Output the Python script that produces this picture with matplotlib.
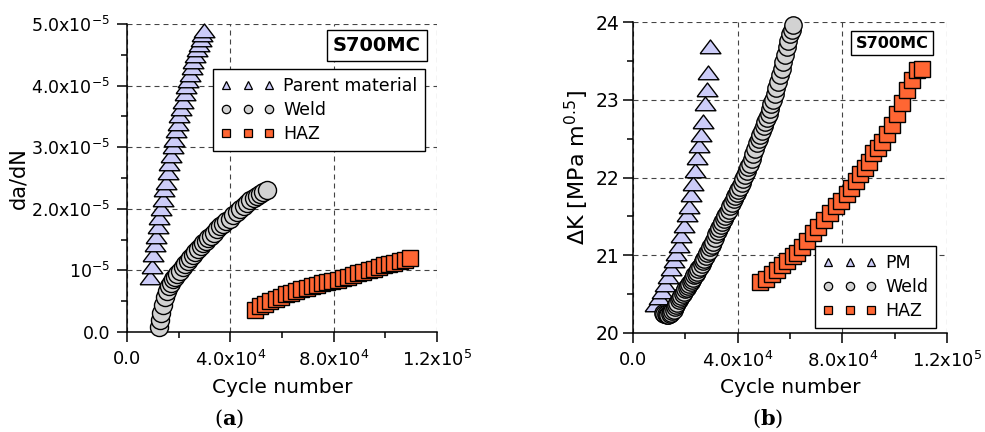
import matplotlib
matplotlib.use("Agg")
import matplotlib.pyplot as plt
from matplotlib.lines import Line2D
from matplotlib.ticker import FixedLocator, FixedFormatter, MultipleLocator

plt.rcParams['font.family'] = ['DejaVu Sans']
plt.rcParams['mathtext.fontset'] = 'custom'
plt.rcParams['mathtext.rm'] = 'DejaVu Sans'
plt.rcParams['mathtext.it'] = 'DejaVu Sans:italic'
plt.rcParams['mathtext.bf'] = 'DejaVu Serif:bold'

# ---------------- data ----------------
# (a) da/dN vs cycle number
pm_a_N = [8900, 9500, 10200, 10800, 11300, 11900, 12500, 13100, 13800, 14400, 15000,
          15700, 16300, 17000, 17700, 18300, 19000, 19600, 20300, 21000, 21600, 22300,
          23000, 23600, 24300, 25000, 25700, 26400, 27100, 27800, 28500, 29100, 29800]
pm_a_v = [0.88, 1.05, 1.25, 1.42, 1.55, 1.70, 1.85, 2.00, 2.15, 2.30, 2.42,
          2.58, 2.72, 2.86, 3.00, 3.12, 3.26, 3.38, 3.50, 3.62, 3.74, 3.86,
          3.98, 4.08, 4.18, 4.28, 4.38, 4.48, 4.58, 4.66, 4.74, 4.82, 4.89]

weld_a_N = [12400, 12800, 13300, 14000, 14800, 15500, 16300, 17000, 17800, 18600, 19500,
            20500, 21500, 22500, 23500, 24500, 25500, 26500, 27500, 28500, 29500, 30500,
            31500, 32500, 33500, 34800, 36000, 37200, 38500, 39900, 41200, 42500, 43800,
            45100, 46400, 47700, 49000, 50300, 51500, 52800, 54200]
weld_a_v = [0.08, 0.20, 0.31, 0.44, 0.57, 0.66, 0.74, 0.80, 0.86, 0.90, 0.94,
            0.99, 1.05, 1.10, 1.15, 1.20, 1.25, 1.30, 1.35, 1.40, 1.44, 1.48,
            1.52, 1.56, 1.60, 1.68, 1.72, 1.76, 1.80, 1.84, 1.90, 1.95, 2.00,
            2.05, 2.10, 2.14, 2.17, 2.20, 2.24, 2.27, 2.30]

haz_a_N = [49500, 51500, 53500, 55500, 57500, 59500, 61500, 63500, 65500, 67500, 69500,
           71500, 73500, 75500, 77500, 79500, 81500, 83500, 85500, 87500, 89500, 91500,
           93500, 95500, 97500, 99500, 101500, 103500, 105500, 107500, 109500]
haz_a_v = [0.36, 0.42, 0.46, 0.50, 0.54, 0.57, 0.61, 0.64, 0.67, 0.70, 0.72,
           0.75, 0.77, 0.79, 0.81, 0.83, 0.85, 0.87, 0.89, 0.92, 0.95, 0.97,
           1.00, 1.03, 1.05, 1.08, 1.10, 1.12, 1.15, 1.17, 1.20]
scale_a = 1e-5

# (b) Delta K vs cycle number
pm_b_N = [8400, 9800, 11000, 12200, 13300, 14500, 15500, 16500, 17500, 18500, 19500,
          20500, 21300, 22200, 23000, 23800, 24600, 25400, 26100, 26800, 27500, 28100,
          28700, 29400]
pm_b_K = [20.36, 20.45, 20.53, 20.62, 20.72, 20.82, 20.92, 21.02, 21.12, 21.25, 21.38,
          21.52, 21.62, 21.78, 21.92, 22.08, 22.25, 22.40, 22.55, 22.72, 22.95, 23.12,
          23.35, 23.68]

weld_b_N = [11500, 12000, 12500, 13000, 13500, 14000, 14500, 15000, 15500, 16000, 16500,
            17000, 17500, 18000, 18500, 19000, 19500, 20000, 20500, 21000, 21500, 22000,
            22500, 23000, 23500, 24000, 24500, 25000, 25600, 26200, 26700, 27200, 27800,
            28400, 28900, 29500, 30000, 30600, 31200, 31800, 32400, 33000, 33600, 34200,
            34800, 35300, 35900, 36500, 37200, 37800, 38500, 39100, 39700, 40300, 40900,
            41500, 42200, 42800, 43500, 44100, 44700, 45300, 46000, 46700, 47400, 48000,
            48700, 49300, 50000, 50600, 51200, 51800, 52400, 52900, 53500, 54100, 54800,
            55500, 56200, 56800, 57500, 58200, 58900, 59400, 60000, 60600, 61100]
weld_b_K = [20.26, 20.25, 20.24, 20.23, 20.23, 20.24, 20.26, 20.28, 20.30, 20.33, 20.36,
            20.39, 20.42, 20.45, 20.47, 20.50, 20.53, 20.56, 20.58, 20.61, 20.63, 20.66,
            20.68, 20.71, 20.74, 20.76, 20.79, 20.82, 20.85, 20.89, 20.92, 20.95, 20.99,
            21.03, 21.06, 21.10, 21.13, 21.17, 21.22, 21.27, 21.31, 21.35, 21.39, 21.43,
            21.47, 21.50, 21.54, 21.58, 21.63, 21.67, 21.72, 21.76, 21.80, 21.84, 21.88,
            21.93, 21.98, 22.03, 22.08, 22.13, 22.18, 22.24, 22.30, 22.37, 22.44, 22.50,
            22.55, 22.60, 22.66, 22.71, 22.76, 22.82, 22.88, 22.94, 23.00, 23.07, 23.15,
            23.23, 23.32, 23.40, 23.48, 23.58, 23.68, 23.76, 23.84, 23.90, 23.96]

haz_b_N = [48500, 51000, 53000, 55000, 57000, 59000, 61000, 62700, 64500, 66500, 68800,
           70800, 73000, 75300, 77500, 79500, 81800, 83500, 85200, 86700, 88500, 90000,
           91700, 93500, 95200, 97100, 99000, 100900, 102800, 104700, 106600, 108500, 110500]
haz_b_K = [20.66, 20.70, 20.76, 20.81, 20.87, 20.93, 20.99, 21.03, 21.10, 21.18, 21.28,
           21.36, 21.45, 21.54, 21.63, 21.70, 21.79, 21.86, 21.95, 22.05, 22.12, 22.20,
           22.31, 22.38, 22.46, 22.56, 22.68, 22.82, 22.96, 23.12, 23.26, 23.38, 23.40]

x_ticks = [0, 40000, 80000, 120000]
x_ticklabels = ['0.0', r'$\mathregular{4.0x10^{4}}$', r'$\mathregular{8.0x10^{4}}$',
                r'$\mathregular{1.2x10^{5}}$']
ya_ticks = [0, 1e-5, 2e-5, 3e-5, 4e-5, 5e-5]
ya_ticklabels = ['0.0', r'$\mathregular{10^{-5}}$', r'$\mathregular{2.0x10^{-5}}$',
                 r'$\mathregular{3.0x10^{-5}}$', r'$\mathregular{4.0x10^{-5}}$',
                 r'$\mathregular{5.0x10^{-5}}$']
yb_ticks = [20, 21, 22, 23, 24]
yb_ticklabels = ['20', '21', '22', '23', '24']

labels_a = ['Parent material', 'Weld', 'HAZ']
labels_b = ['PM', 'Weld', 'HAZ']

# ---------------- style ----------------
c_pm = '#CCCCF8'
c_weld = '#D2D2D2'
c_haz = '#FF6633'
tri = [(-1, -0.6), (1, -0.6), (0, 0.72), (-1, -0.6)]
W, H = 985, 432

fig = plt.figure(figsize=(W / 100, H / 100), dpi=100)


def fx(px):
    return px / W


def fy(py):
    return 1 - py / H


def style_axes(ax, xlim, ylim, xminor, yminor, yt, ytl, ylabsize, ypad):
    ax.set_xlim(*xlim)
    ax.set_ylim(*ylim)
    for s in ['top', 'right']:
        ax.spines[s].set_visible(False)
    for s in ['left', 'bottom']:
        ax.spines[s].set_linewidth(1.1)
    ax.xaxis.set_major_locator(FixedLocator(x_ticks))
    ax.xaxis.set_major_formatter(FixedFormatter(x_ticklabels))
    ax.xaxis.set_minor_locator(MultipleLocator(xminor))
    ax.yaxis.set_major_locator(FixedLocator(yt))
    ax.yaxis.set_major_formatter(FixedFormatter(ytl))
    ax.yaxis.set_minor_locator(MultipleLocator(yminor))
    ax.tick_params(which='major', direction='out', length=7, width=1.1, labelsize=13)
    ax.tick_params(which='minor', direction='out', length=4, width=1.1)
    ax.tick_params(axis='x', which='major', pad=6)
    ax.tick_params(axis='y', which='major', pad=ypad, labelsize=ylabsize)
    ax.grid(True, which='major', linestyle=(0, (4.5, 3.6)), linewidth=0.8, color='#444444')
    ax.set_axisbelow(True)


def draw(ax, N, v, marker, ms, fc):
    ax.plot(N, v, ls='none', marker=marker, ms=ms, mfc=fc, mec='black', mew=1.0,
            clip_on=False, zorder=3)


# ---------- panel (a) ----------
axa = fig.add_axes([fx(127), fy(332), fx(437) - fx(127), fy(24) - fy(332)])
style_axes(axa, (0, 120000), (0, 5e-5), 20000, 0.5e-5, ya_ticks, ya_ticklabels, 12.5, 5)
draw(axa, pm_a_N, [v * scale_a for v in pm_a_v], tri, 15, c_pm)
draw(axa, weld_a_N, [v * scale_a for v in weld_a_v], 'o', 13, c_weld)
draw(axa, haz_a_N, [v * scale_a for v in haz_a_v], 's', 12, c_haz)
axa.set_xlabel('Cycle number', fontsize=14.5)
axa.set_ylabel('da/dN', fontsize=15)
axa.yaxis.set_label_coords((28 - 127) / 310, 0.5)
axa.xaxis.set_label_coords(0.5, (332 - 378) / 308)

# ---------- panel (b) ----------
axb = fig.add_axes([fx(633), fy(333), fx(947) - fx(633), fy(22) - fy(333)])
style_axes(axb, (0, 120000), (20, 24), 20000, 0.5, yb_ticks, yb_ticklabels, 13.5, 3)
draw(axb, pm_b_N, pm_b_K, tri, 15, c_pm)
draw(axb, weld_b_N, weld_b_K, 'o', 12.5, c_weld)
draw(axb, haz_b_N, haz_b_K, 's', 12, c_haz)
axb.set_xlabel('Cycle number', fontsize=14.5)
axb.set_ylabel('ΔK [MPa m$\\mathregular{^{0.5}}$]', fontsize=16)
axb.yaxis.set_label_coords((591 - 633) / 314, (333 - 168) / 311)
axb.xaxis.set_label_coords(0.5, (333 - 378) / 311)

# ---------- legends ----------
def handles():
    return [Line2D([], [], ls='none', marker='^', ms=6, mfc=c_pm, mec='black', mew=0.9),
            Line2D([], [], ls='none', marker='o', ms=6, mfc=c_weld, mec='black', mew=0.9),
            Line2D([], [], ls='none', marker='s', ms=5.5, mfc=c_haz, mec='black', mew=0.9)]


for ax, labs, (lx, ly) in [(axa, labels_a, (213, 69)), (axb, labels_b, (815, 246))]:
    leg = ax.legend(handles(), labs, numpoints=3, loc='upper left',
                    bbox_to_anchor=(fx(lx), fy(ly)), bbox_transform=fig.transFigure,
                    borderaxespad=0, fancybox=False, edgecolor='black', framealpha=1,
                    fontsize=12.5, handlelength=3.1, handletextpad=0.5,
                    labelspacing=0.36, borderpad=0.45)
    leg.get_frame().set_linewidth(1.0)
    leg.set_zorder(5)

# ---------- S700MC boxes ----------
for (cx, cy, fs) in [(377, 45.5, 14), (892, 43, 11.6)]:
    fig.text(fx(cx), fy(cy), 'S700MC', ha='center', va='center', fontsize=fs,
             fontweight='bold', zorder=6,
             bbox=dict(boxstyle='square,pad=0.3', fc='white', ec='black', lw=1.0))

# ---------- sub-captions ----------
fig.text(fx(229), fy(419), r'($\mathbf{a}$)', ha='center', va='center',
         fontsize=15, family='DejaVu Serif')
fig.text(fx(768), fy(419), r'($\mathbf{b}$)', ha='center', va='center',
         fontsize=15, family='DejaVu Serif')

fig.savefig('out.png', dpi=100)
